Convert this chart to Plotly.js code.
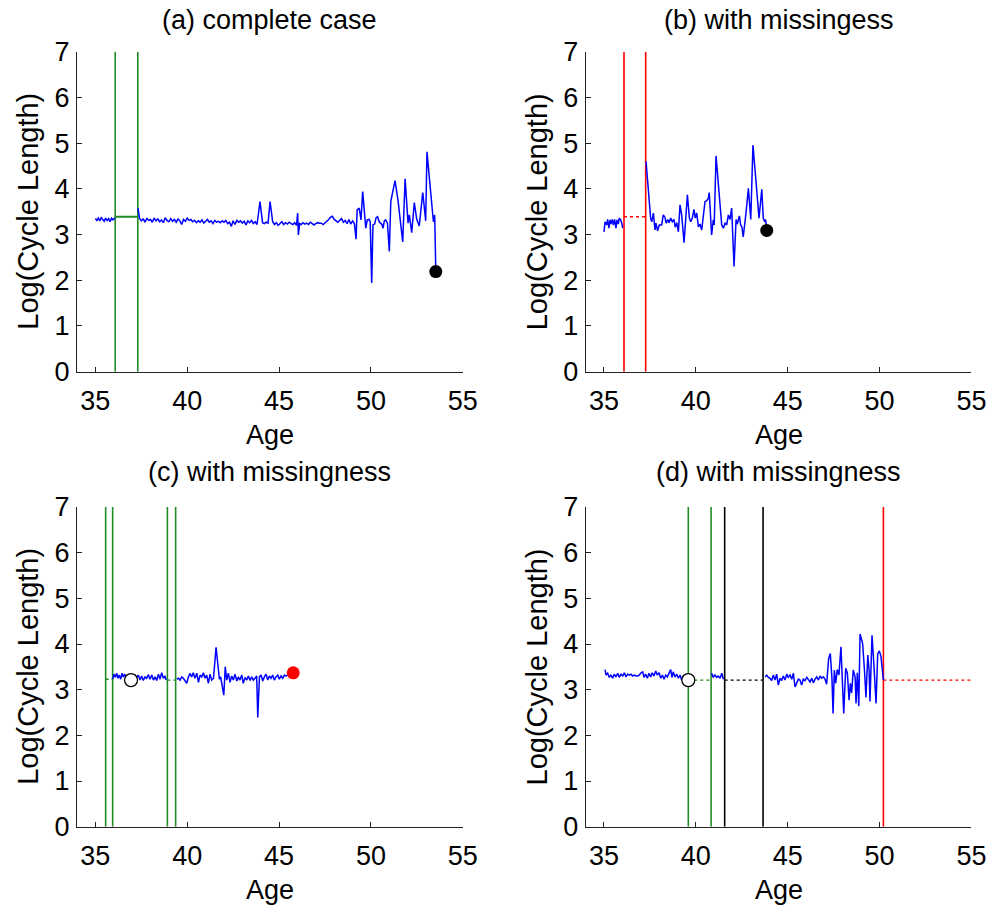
<!DOCTYPE html>
<html><head><meta charset="utf-8">
<script src="https://cdn.plot.ly/plotly-3.0.1.min.js"></script>
<style>html,body{margin:0;padding:0;background:#fff}</style>
</head><body><div id="chart" style="width:994px;height:910px"></div>
<script>
// ---------------- data ----------------
const panelTitles = ["(a) complete case", "(b) with missingess", "(c) with missingness", "(d) with missingness"];
const xLabel = "Age";
const yLabel = "Log(Cycle Length)";
const xTicks = [35, 40, 45, 50, 55];
const yTicks = [0, 1, 2, 3, 4, 5, 6, 7];

// panel (a)
const ageA1 = [35.0,35.08,35.16,35.24,35.32,35.4,35.48,35.56,35.64,35.72,35.8,35.88,35.96,36.07];
const valA1 = [3.35,3.31,3.36,3.30,3.37,3.32,3.29,3.36,3.31,3.35,3.28,3.36,3.32,3.37];
const ageA2 = [37.32,37.4,37.5,37.6,37.7,37.8,37.9,38.0,38.1,38.2,
  38.3,38.4,38.5,38.6,38.7,38.8,38.9,39.0,39.1,39.2,
  39.3,39.4,39.5,39.6,39.7,39.8,39.9,40.0,40.1,40.2,
  40.3,40.4,40.5,40.6,40.7,40.8,40.9,41.0,41.1,41.2,
  41.3,41.4,41.5,41.6,41.7,41.8,41.9,42.0,42.1,42.2,
  42.3,42.4,42.5,42.6,42.7,42.8,42.9,43.0,43.1,43.2,
  43.3,43.4,43.5,43.6,43.7,43.8,43.96,44.1,44.2,44.3,
  44.4,44.51,44.65,44.75,44.85,44.95,45.05,45.15,45.25,45.35,
  45.45,45.55,45.65,45.75,45.85,45.95,46.01,46.05,46.12,46.2,
  46.3,46.4,46.5,46.6,46.7,46.8,46.9,47.0,47.1,47.2,
  47.3,47.4,47.5,47.6,47.7,47.8,47.9,48.0,48.1,48.2,
  48.3,48.4,48.5,48.6,48.7,48.8,48.9,49.0,49.1,49.19,
  49.25,49.36,49.46,49.55,49.72,49.8,49.9,49.96,50.04,50.11,
  50.2,50.28,50.36,50.45,50.52,50.6,50.66,50.73,50.8,50.9,
  51.0,51.08,51.31,51.47,51.73,51.86,52.02,52.09,52.22,52.36,
  52.49,52.63,52.82,52.89,52.98,53.05,53.4,53.47,53.53];
const valA2 = [3.58,3.36,3.30,3.34,3.28,3.35,3.31,3.33,3.27,3.36,
  3.30,3.34,3.28,3.32,3.26,3.37,3.31,3.28,3.35,3.29,
  3.33,3.27,3.34,3.30,3.22,3.33,3.29,3.36,3.31,3.33,
  3.28,3.31,3.26,3.30,3.27,3.32,3.25,3.29,3.33,3.27,
  3.30,3.24,3.31,3.27,3.29,3.26,3.30,3.27,3.31,3.24,
  3.27,3.18,3.30,3.22,3.31,3.27,3.30,3.25,3.29,3.21,
  3.30,3.26,3.31,3.24,3.28,3.22,3.72,3.26,3.24,3.27,
  3.25,3.72,3.28,3.22,3.26,3.20,3.24,3.28,3.22,3.26,
  3.23,3.27,3.24,3.22,3.26,3.20,3.47,2.99,3.24,3.22,
  3.26,3.23,3.25,3.22,3.27,3.24,3.21,3.24,3.26,3.25,
  3.25,3.22,3.25,3.29,3.33,3.38,3.40,3.33,3.29,3.27,
  3.31,3.35,3.27,3.31,3.24,3.33,3.23,3.30,3.24,2.90,
  3.54,3.58,3.32,3.94,3.14,3.32,3.33,3.28,1.94,3.21,
  3.23,3.37,3.39,3.28,3.25,3.22,3.14,3.30,3.32,3.25,
  2.63,3.72,4.18,3.76,2.84,4.22,3.25,3.43,3.04,3.70,
  3.34,3.19,3.92,3.61,3.30,4.81,3.28,3.43,2.19];
const eventsA = [36.08, 37.31];
const bridgeA = 3.39;
const endA = [53.53, 2.19];

// panel (b)
const ageB1 = [35.0,35.06,35.15,35.2,35.27,35.33,35.38,35.45,35.51,35.58,35.65,35.71,35.78,35.83,35.91,35.97,36.02];
const valB1 = [3.06,3.28,3.21,3.33,3.14,3.32,3.23,3.33,3.21,3.33,3.14,3.32,3.23,3.36,3.32,3.25,3.14];
const ageB2 = [37.29,37.54,37.6,37.69,37.78,37.83,37.92,38.01,38.14,38.23,
  38.32,38.38,38.47,38.54,38.63,38.72,38.81,38.88,38.96,39.05,
  39.14,39.23,39.36,39.45,39.54,39.65,39.72,39.81,39.9,39.97,
  40.05,40.14,40.23,40.32,40.41,40.5,40.59,40.68,40.73,40.86,
  40.95,41.0,41.1,41.32,41.41,41.5,41.59,41.68,41.77,41.86,
  41.95,42.08,42.19,42.26,42.37,42.44,42.51,42.58,42.66,42.73,
  42.86,42.99,43.11,43.35,43.44,43.59,43.67,43.75,43.8,43.86];
const valB2 = [4.60,3.36,3.28,3.47,3.10,3.25,3.08,3.21,3.21,3.43,
  3.38,3.25,3.33,3.26,3.36,3.28,3.33,3.16,3.26,3.06,
  3.65,3.43,2.82,3.25,3.87,3.36,3.28,3.36,3.55,3.36,
  3.47,3.17,3.23,3.10,3.39,3.72,3.74,3.79,3.92,2.99,
  3.32,3.21,4.72,3.61,3.21,3.14,3.25,3.21,3.43,3.33,
  3.58,2.30,3.33,3.23,3.41,3.21,3.16,2.95,3.32,3.47,
  4.01,3.33,4.96,3.76,3.36,3.99,3.36,3.28,3.33,3.09];
const eventsB = [36.09, 37.27];
const bridgeB = 3.39;
const endB = [43.86, 3.09];

// panel (c)
const ageC1 = [35.94,36.01,36.09,36.16,36.23,36.30,36.38,36.45,36.52,36.6,
  36.67,36.74,36.81,36.89,36.98,37.07,37.16,37.25,37.34,37.43,
  37.52,37.61,37.7,37.79,37.88,37.97,38.07,38.16,38.25,38.34,
  38.43,38.52,38.61,38.7,38.79,38.85];
const valC1 = [3.23,3.34,3.27,3.36,3.25,3.32,3.23,3.36,3.28,3.34,
  3.25,3.32,3.28,3.23,3.21,3.28,3.32,3.27,3.32,3.21,
  3.30,3.20,3.28,3.25,3.33,3.23,3.32,3.21,3.28,3.20,
  3.34,3.23,3.37,3.25,3.30,3.21];
const ageC2 = [39.43,39.52,39.61,39.7,39.79,39.88,39.97,40.06,40.15,40.24,
  40.33,40.42,40.52,40.61,40.7,40.79,40.88,40.97,41.06,41.15,
  41.24,41.33,41.43,41.57,41.75,41.82,41.89,41.99,42.07,42.15,
  42.24,42.33,42.42,42.51,42.6,42.7,42.78,42.87,42.97,43.05,
  43.15,43.24,43.33,43.42,43.51,43.6,43.69,43.78,43.84,43.93,
  44.02,44.11,44.2,44.29,44.38,44.47,44.56,44.65,44.74,44.83,
  44.93,45.01,45.11,45.2,45.29,45.38,45.5,45.77];
const valC2 = [3.23,3.25,3.21,3.28,3.25,3.20,3.14,3.27,3.36,3.28,
  3.37,3.25,3.36,3.16,3.32,3.28,3.37,3.25,3.32,3.14,
  3.34,3.21,3.25,3.93,3.23,3.28,3.14,2.88,3.50,3.21,
  3.36,3.16,3.30,3.21,3.34,3.19,3.28,3.21,3.32,3.14,
  3.27,3.21,3.30,3.20,3.28,3.21,3.25,3.30,2.39,3.28,
  3.32,3.19,3.28,3.34,3.21,3.30,3.25,3.32,3.21,3.28,
  3.32,3.23,3.30,3.25,3.32,3.30,3.32,3.37];
const eventsC = [35.56, 35.94, 38.92, 39.37];
const bridgeC1 = [35.56, 35.94, 3.23];
const bridgeC2 = [38.92, 39.37, 3.21];
const openC = [36.94, 3.21];
const endC = [45.77, 3.37];

// panel (d)
const ageD1 = [35.06,35.11,35.2,35.29,35.38,35.47,35.56,35.65,35.75,35.83,
  35.93,36.02,36.11,36.2,36.29,36.38,36.47,36.56,36.65,36.74,
  36.84,36.92,37.02,37.11,37.18,37.27,37.36,37.45,37.54,37.63,
  37.72,37.82,37.9,38.0,38.09,38.18,38.27,38.36,38.45,38.54,
  38.63,38.7,38.77,38.87,38.96,39.05,39.14,39.23,39.32,39.47,39.59];
const valD1 = [3.44,3.32,3.36,3.27,3.32,3.25,3.34,3.28,3.36,3.27,
  3.34,3.30,3.37,3.28,3.34,3.32,3.34,3.30,3.32,3.30,
  3.30,3.32,3.37,3.39,3.27,3.34,3.25,3.36,3.28,3.37,
  3.30,3.41,3.32,3.37,3.25,3.32,3.23,3.32,3.28,3.36,
  3.44,3.27,3.39,3.28,3.34,3.25,3.32,3.21,3.30,3.23,3.21];
const ageD2 = [40.86,40.95,41.04,41.14,41.22,41.32,41.41,41.5];
const valD2 = [3.36,3.27,3.32,3.27,3.30,3.25,3.36,3.23];
const ageD3 = [43.77,43.86,43.95,44.04,44.13,44.22,44.31,44.4,44.49,44.58,
  44.67,44.76,44.85,44.95,45.03,45.13,45.22,45.31,45.4,45.49,
  45.58,45.67,45.76,45.85,45.94,46.04,46.12,46.22,46.31,46.4,
  46.49,46.58,46.67,46.76,46.85,46.94,47.03,47.12,47.23,47.32,
  47.41,47.47,47.54,47.61,47.7,47.79,47.9,48.05,48.16,48.25,
  48.34,48.41,48.48,48.57,48.67,48.72,48.79,48.87,48.94,49.08,
  49.19,49.26,49.36,49.43,49.48,49.59,49.7,49.81,49.9,49.99,
  50.08,50.21];
const valD3 = [3.28,3.32,3.27,3.25,3.20,3.32,3.21,3.34,3.10,3.25,
  3.20,3.30,3.21,3.34,3.27,3.32,3.23,3.36,3.06,3.14,
  3.23,3.21,3.10,3.23,3.20,3.27,3.23,3.17,3.25,3.15,
  3.23,3.28,3.21,3.30,3.25,3.28,3.23,3.12,3.68,3.79,
  3.25,2.48,3.43,3.14,3.44,3.32,3.94,2.48,3.47,3.36,
  2.77,3.14,2.93,3.43,3.28,2.70,3.37,2.64,4.22,4.01,
  3.36,2.83,3.76,3.43,2.74,4.19,3.50,2.70,3.79,3.85,
  3.72,3.21];
const eventsDGreen = [39.59, 40.83];
const eventsDBlack = [41.57, 43.66];
const eventsDRed = [50.21];
const bridgeDGreen = [39.59, 40.83, 3.21];
const bridgeDBlack = [41.57, 43.66, 3.21];
const bridgeDRed = [50.21, 55, 3.21];
const openD = [39.59, 3.21];

// ---------------- styling ----------------
const FONT = "Liberation Sans, Arial, Helvetica, sans-serif";
const BLUE = "#0000ff", GREEN = "#228b22", RED = "#ff0000", BLACK = "#000000";
const yMin = 0, yMax = 7;

function blue(x, y, ax) {
  return {x: x, y: y, xaxis: "x" + ax, yaxis: "y" + ax, type: "scatter", mode: "lines",
          line: {color: BLUE, width: 1.5}, hoverinfo: "skip"};
}
function vlines(events, color, ax) {
  const xs = [], ys = [];
  events.forEach(e => { xs.push(e, e, null); ys.push(yMin, yMax, null); });
  return {x: xs, y: ys, xaxis: "x" + ax, yaxis: "y" + ax, type: "scatter", mode: "lines",
          line: {color: color, width: 1.6}, hoverinfo: "skip"};
}
function hline(x0, x1, y, color, dash, width, ax) {
  return {x: [x0, x1], y: [y, y], xaxis: "x" + ax, yaxis: "y" + ax, type: "scatter", mode: "lines",
          line: {color: color, width: width, dash: dash}, hoverinfo: "skip"};
}
function dot(p, fill, ax, size) {
  return {x: [p[0]], y: [p[1]], xaxis: "x" + ax, yaxis: "y" + ax, type: "scatter", mode: "markers",
          marker: {color: fill, size: size, line: {color: BLACK, width: fill === "#ffffff" ? 1.3 : 0}},
          hoverinfo: "skip"};
}

const traces = [
  // (a)
  hline(eventsA[0], eventsA[1], bridgeA, GREEN, "solid", 2.2, ""),
  vlines(eventsA, GREEN, ""),
  blue(ageA1, valA1, ""), blue(ageA2, valA2, ""),
  dot(endA, BLACK, "", 13),
  // (b)
  hline(eventsB[0], eventsB[1], bridgeB, RED, "dot", 1.4, "2"),
  vlines(eventsB, RED, "2"),
  blue(ageB1, valB1, "2"), blue(ageB2, valB2, "2"),
  dot(endB, BLACK, "2", 13),
  // (c)
  hline(bridgeC1[0], bridgeC1[1], bridgeC1[2], GREEN, "dot", 1.4, "3"),
  hline(bridgeC2[0], bridgeC2[1], bridgeC2[2], GREEN, "dot", 1.4, "3"),
  vlines(eventsC, GREEN, "3"),
  blue(ageC1, valC1, "3"), blue(ageC2, valC2, "3"),
  dot(openC, "#ffffff", "3", 13),
  dot(endC, RED, "3", 13),
  // (d)
  hline(bridgeDGreen[0], bridgeDGreen[1], bridgeDGreen[2], GREEN, "dot", 1.4, "4"),
  hline(bridgeDBlack[0], bridgeDBlack[1], bridgeDBlack[2], BLACK, "dot", 1.4, "4"),
  hline(bridgeDRed[0], bridgeDRed[1], bridgeDRed[2], RED, "dot", 1.4, "4"),
  vlines(eventsDGreen, GREEN, "4"), vlines(eventsDBlack, BLACK, "4"), vlines(eventsDRed, RED, "4"),
  blue(ageD1, valD1, "4"), blue(ageD2, valD2, "4"), blue(ageD3, valD3, "4"),
  dot(openD, "#ffffff", "4", 13)
];

const W = 994, H = 910;
const colX = [[77 / W, 462.8 / W], [585.6 / W, 971.4 / W]];
const rowY = [[1 - 371.7 / H, 1 - 51.7 / H], [1 - 826.7 / H, 1 - 507 / H]];

function axis(isX, domain, anchor) {
  return {
    domain: domain, anchor: anchor,
    range: isX ? [34, 55] : [yMin, yMax],
    tickmode: "array", tickvals: isX ? xTicks : yTicks, ticktext: (isX ? xTicks : yTicks).map(String),
    ticks: "inside", ticklen: 5, tickwidth: 1, tickcolor: "#222",
    ticklabelstandoff: isX ? 5 : 1,
    showline: true, linecolor: "#222", linewidth: 1, mirror: false,
    showgrid: false, zeroline: false, automargin: false, fixedrange: true,
    tickfont: {family: FONT, size: 27, color: "#000"}
  };
}

const layout = {
  width: W, height: H, margin: {l: 0, r: 0, t: 0, b: 0},
  paper_bgcolor: "#fff", plot_bgcolor: "#fff", showlegend: false, hovermode: false,
  xaxis: axis(true, colX[0], "y"), yaxis: axis(false, rowY[0], "x"),
  xaxis2: axis(true, colX[1], "y2"), yaxis2: axis(false, rowY[0], "x2"),
  xaxis3: axis(true, colX[0], "y3"), yaxis3: axis(false, rowY[1], "x3"),
  xaxis4: axis(true, colX[1], "y4"), yaxis4: axis(false, rowY[1], "x4"),
  annotations: []
};

const cells = [[0, 0], [1, 0], [0, 1], [1, 1]];
const titleY = [1 - 20 / H, 1 - 472 / H];
const xlabY = [1 - 435 / H, 1 - 890 / H];
const ylabX = [28 / W, 536.6 / W];
cells.forEach((c, i) => {
  const cx = (colX[c[0]][0] + colX[c[0]][1]) / 2;
  const cy = (rowY[c[1]][0] + rowY[c[1]][1]) / 2;
  layout.annotations.push({text: panelTitles[i], xref: "paper", yref: "paper", x: cx, y: titleY[c[1]],
    xanchor: "center", yanchor: "middle", showarrow: false, font: {family: FONT, size: 27, color: "#000"}});
  layout.annotations.push({text: xLabel, xref: "paper", yref: "paper", x: cx, y: xlabY[c[1]],
    xanchor: "center", yanchor: "middle", showarrow: false, font: {family: FONT, size: 27, color: "#000"}});
  layout.annotations.push({text: yLabel, xref: "paper", yref: "paper", x: ylabX[c[0]], y: cy,
    xanchor: "center", yanchor: "middle", textangle: -90, showarrow: false, font: {family: FONT, size: 29, color: "#000"}});
});

Plotly.newPlot("chart", traces, layout, {staticPlot: true, displayModeBar: false});
</script>
</body></html>
